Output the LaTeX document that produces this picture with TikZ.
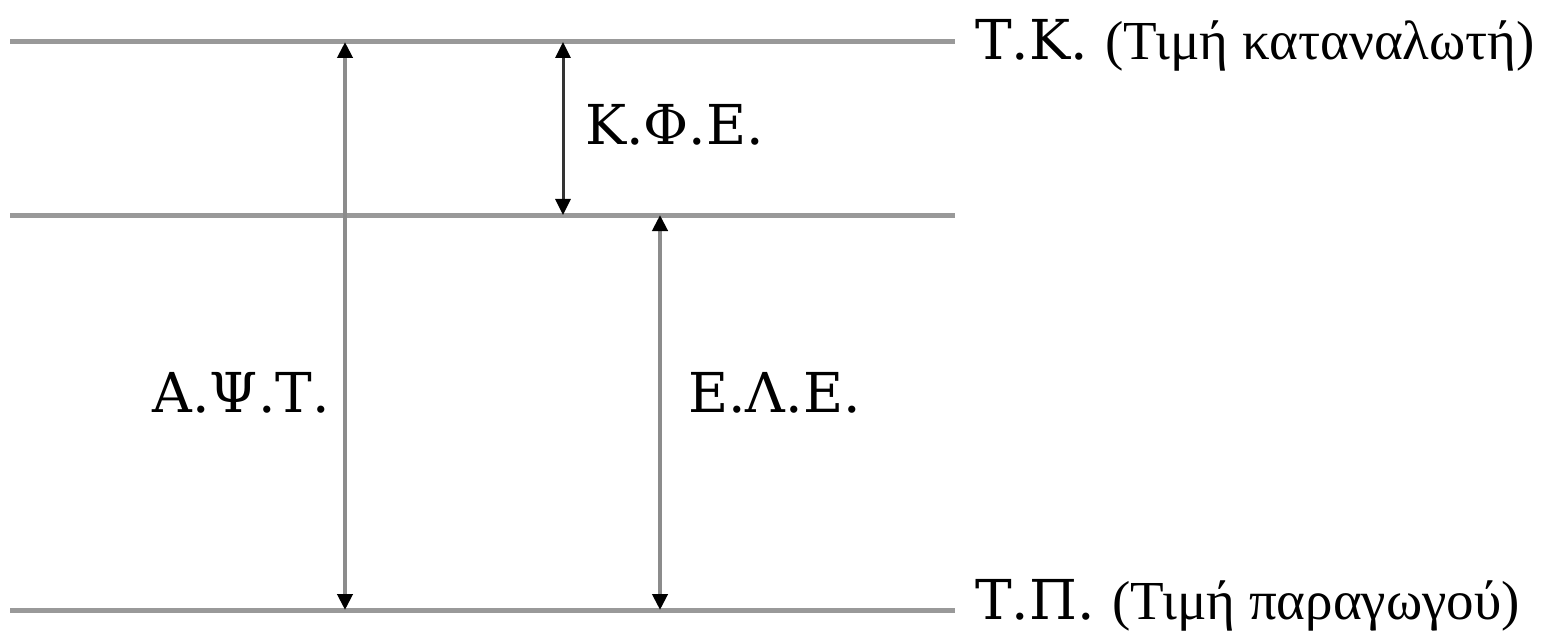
\documentclass[tikz,border=0pt]{standalone}
\usepackage{fontspec}
\setmainfont{DejaVu Serif}
\newfontfamily\glossfont{Liberation Serif}
\usetikzlibrary{arrows.meta, positioning}
\definecolor{linegray}{HTML}{999999}
\definecolor{shaftgray}{HTML}{8c8c8c}
\definecolor{darkshaft}{HTML}{333333}

\begin{document}
\begin{tikzpicture}[x=1pt, y=-1pt,
  level/.style={draw=linegray, line width=5pt},
  gap/.style={draw=shaftgray, line width=4pt, {Triangle[length=16pt,width=15pt,fill=black,color=black]}-{Triangle[length=16pt,width=15pt,fill=black,color=black]}},
  tax/.style={gap, draw=darkshaft, line width=3pt},
  lbl/.style={font=\fontsize{55}{60}\selectfont, inner sep=0pt}]
  \useasboundingbox (0,0) rectangle (1557,631);
  % price levels
  \foreach \nm/\y in {tk/42, ele/215, tp/610} {
    \coordinate (\nm l) at (10,\y);
    \coordinate (\nm r) at (955,\y);
    \draw[level] (\nm l) -- (\nm r);
  }
  \node[lbl, anchor=base west] (tklbl) at (975,60) {Τ.Κ. {\glossfont (Τιμή καταναλωτή)}};
  \node[lbl, anchor=base west] (tplbl) at (975,619) {Τ.Π. {\glossfont (Τιμή παραγωγού)}};
  % differences
  \coordinate (apt1) at (345,42);  \coordinate (apt2) at (345,610);
  \coordinate (kfe1) at (563,42);  \coordinate (kfe2) at (563,215);
  \coordinate (ele1) at (660,215); \coordinate (ele2) at (660,610);
  \draw[gap] (apt1) -- (apt2);
  \draw[tax] (kfe1) -- (kfe2);
  \draw[gap] (ele1) -- (ele2);
  \node[lbl, anchor=base east] (aptlbl) at (330,412) {Α.Ψ.Τ.};
  \node[lbl, anchor=base west] (kfelbl) at (585,145) {Κ.Φ.Ε.};
  \node[lbl, anchor=base west] (elelbl) at (688,412) {Ε.Λ.Ε.};
\end{tikzpicture}
\end{document}
